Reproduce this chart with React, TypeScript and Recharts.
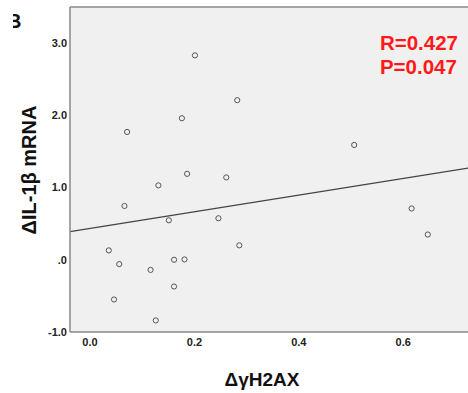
import { ReferenceLine, Scatter, ScatterChart, CartesianGrid, XAxis, YAxis } from "recharts";

const xValues = [0.201, 0.282, 0.176, 0.071, 0.506, 0.186, 0.131, 0.261, 0.066, 0.151, 0.246, 0.616, 0.647, 0.036, 0.286, 0.056, 0.161, 0.181, 0.116, 0.161, 0.046, 0.126];
const yValues = [2.83, 2.21, 1.96, 1.77, 1.59, 1.19, 1.03, 1.14, 0.745, 0.547, 0.575, 0.71, 0.35, 0.13, 0.2, -0.06, 0.0, 0.005, -0.14, -0.37, -0.55, -0.84];
const fitLine = [
  { x: -0.0383, y: 0.39 },
  { x: 0.724, y: 1.27 },
];
const xTicks = [0, 0.2, 0.4, 0.6];
const yTicks = [-1, 0, 1, 2, 3];
const stats = ["R=0.427", "P=0.047"];

const points = xValues.map((x, i) => ({ x, y: yValues[i] }));

const font = "'Liberation Sans', Arial, sans-serif";

const Dot = (p: any) => (
  <circle cx={p.cx} cy={p.cy} r={2.6} fill="#f0f0f0" stroke="#555" strokeWidth={1} />
);

export default function App() {
  return (
    <div style={{ position: "absolute", left: 0, top: 0, width: 468, height: 393, background: "#fff", fontFamily: font }}>
      <ScatterChart width={468} height={393} margin={{ top: 7, right: 0, bottom: 31, left: 10 }}>
        <CartesianGrid horizontal={false} vertical={false} fill="#f0f0f0" />
        <XAxis
          type="number"
          dataKey="x"
          domain={[-0.0383, 0.724]}
          allowDataOverflow
          ticks={xTicks}
          tickFormatter={(v: number) => v.toFixed(1)}
          height={30}
          tickLine={false}
          tickSize={4}
          tickMargin={2}
          axisLine={{ stroke: "#888", strokeWidth: 1.5 }}
          tick={{ fill: "#222", fontSize: 11, fontWeight: "bold", fontFamily: font }}
        />
        <YAxis
          type="number"
          dataKey="y"
          domain={[-1, 3.5]}
          allowDataOverflow
          ticks={yTicks}
          tickFormatter={(v: number) => (v === 0 ? ".0" : v.toFixed(1))}
          width={60}
          tickLine={false}
          tickSize={3}
          tickMargin={0}
          axisLine={{ stroke: "#888", strokeWidth: 1.5 }}
          tick={{ fill: "#222", fontSize: 11, fontWeight: "bold", fontFamily: font }}
        />
        <ReferenceLine y={3.5} stroke="#888" strokeWidth={1.5} ifOverflow="visible" />
        <ReferenceLine segment={fitLine} stroke="#444" strokeWidth={1.2} ifOverflow="visible" />
        <Scatter data={points} shape={Dot} isAnimationActive={false} />
      </ScatterChart>
      <div style={{ position: "absolute", left: 13, top: 10, width: 11, height: 22, overflow: "hidden" }}>
        <span style={{ position: "absolute", left: -6, top: 0, fontSize: 20, fontWeight: "bold", lineHeight: "22px", color: "#111" }}>B</span>
      </div>
      <div style={{ position: "absolute", right: 10, top: 31, color: "#ff1a1a", fontSize: 20.5, fontWeight: "bold", lineHeight: "24px", textAlign: "left" }}>
        {stats.map((s) => (
          <div key={s}>{s}</div>
        ))}
      </div>
      <div style={{ position: "absolute", left: 262, top: 380, transform: "translate(-50%, -50%)", fontSize: 19, fontWeight: "bold", color: "#111", whiteSpace: "nowrap" }}>
        ΔγH2AX
      </div>
      <div style={{ position: "absolute", left: 29, top: 170, transform: "translate(-50%, -50%) rotate(-90deg)", fontSize: 20, fontWeight: "bold", color: "#111", whiteSpace: "nowrap" }}>
        ΔIL-1β mRNA
      </div>
    </div>
  );
}
